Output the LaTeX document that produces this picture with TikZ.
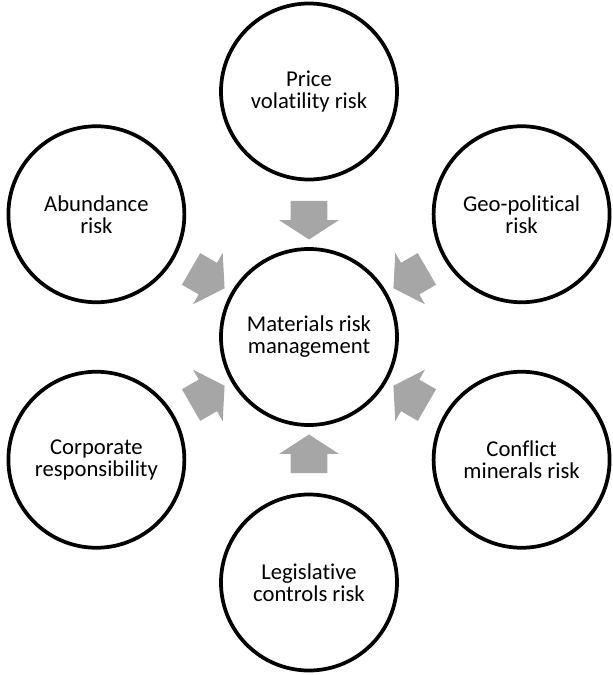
\documentclass[tikz,border=0pt]{standalone}
\usepackage{fontspec}
\setmainfont{Carlito}[Ligatures={NoCommon,NoRequired}]
\usepackage{xcolor}
\usetikzlibrary{shapes.arrows, calc}

\definecolor{arrowgray}{HTML}{A6A6A6}

\tikzset{
    riskcircle/.style={circle, draw=black, line width=2.8pt, minimum size=132pt,
        inner sep=0pt, align=center, font=\fontsize{17}{16.5}\selectfont},
    flowarrow/.style={single arrow, fill=arrowgray, draw=none, inner xsep=0pt,
        inner ysep=13.5pt, minimum height=29pt, single arrow head extend=8.6pt,
        single arrow tip angle=114, single arrow head indent=0pt}
}

\begin{document}
\begin{tikzpicture}[x=0.75pt, y=0.75pt]
    % Frame
    \useasboundingbox (-309,-338) rectangle (304,337);

    % Centre
    \node[riskcircle] (mrm) at (0,0) {Materials risk\\management};

    % Outer circles
    \foreach \ang/\name/\txt in {90/price/Price\\volatility risk,
        30/geo/Geo-political\\risk,
        -30/conflict/Conflict\\minerals risk,
        -90/legis/Legislative\\controls risk,
        -150/corp/Corporate\\responsibility,
        150/abund/Abundance\\risk} {
        \node[riskcircle] (\name) at (\ang:245.5) {\txt};
    }

    % Arrows into the centre
    \foreach \ang/\name in {90/price, 30/geo, -30/conflict, -90/legis, -150/corp, 150/abund} {
        \node[flowarrow, rotate=\ang+180] (arr-\name) at ($(\name.center)!0.5!(mrm.center)$) {};
    }
\end{tikzpicture}
\end{document}
